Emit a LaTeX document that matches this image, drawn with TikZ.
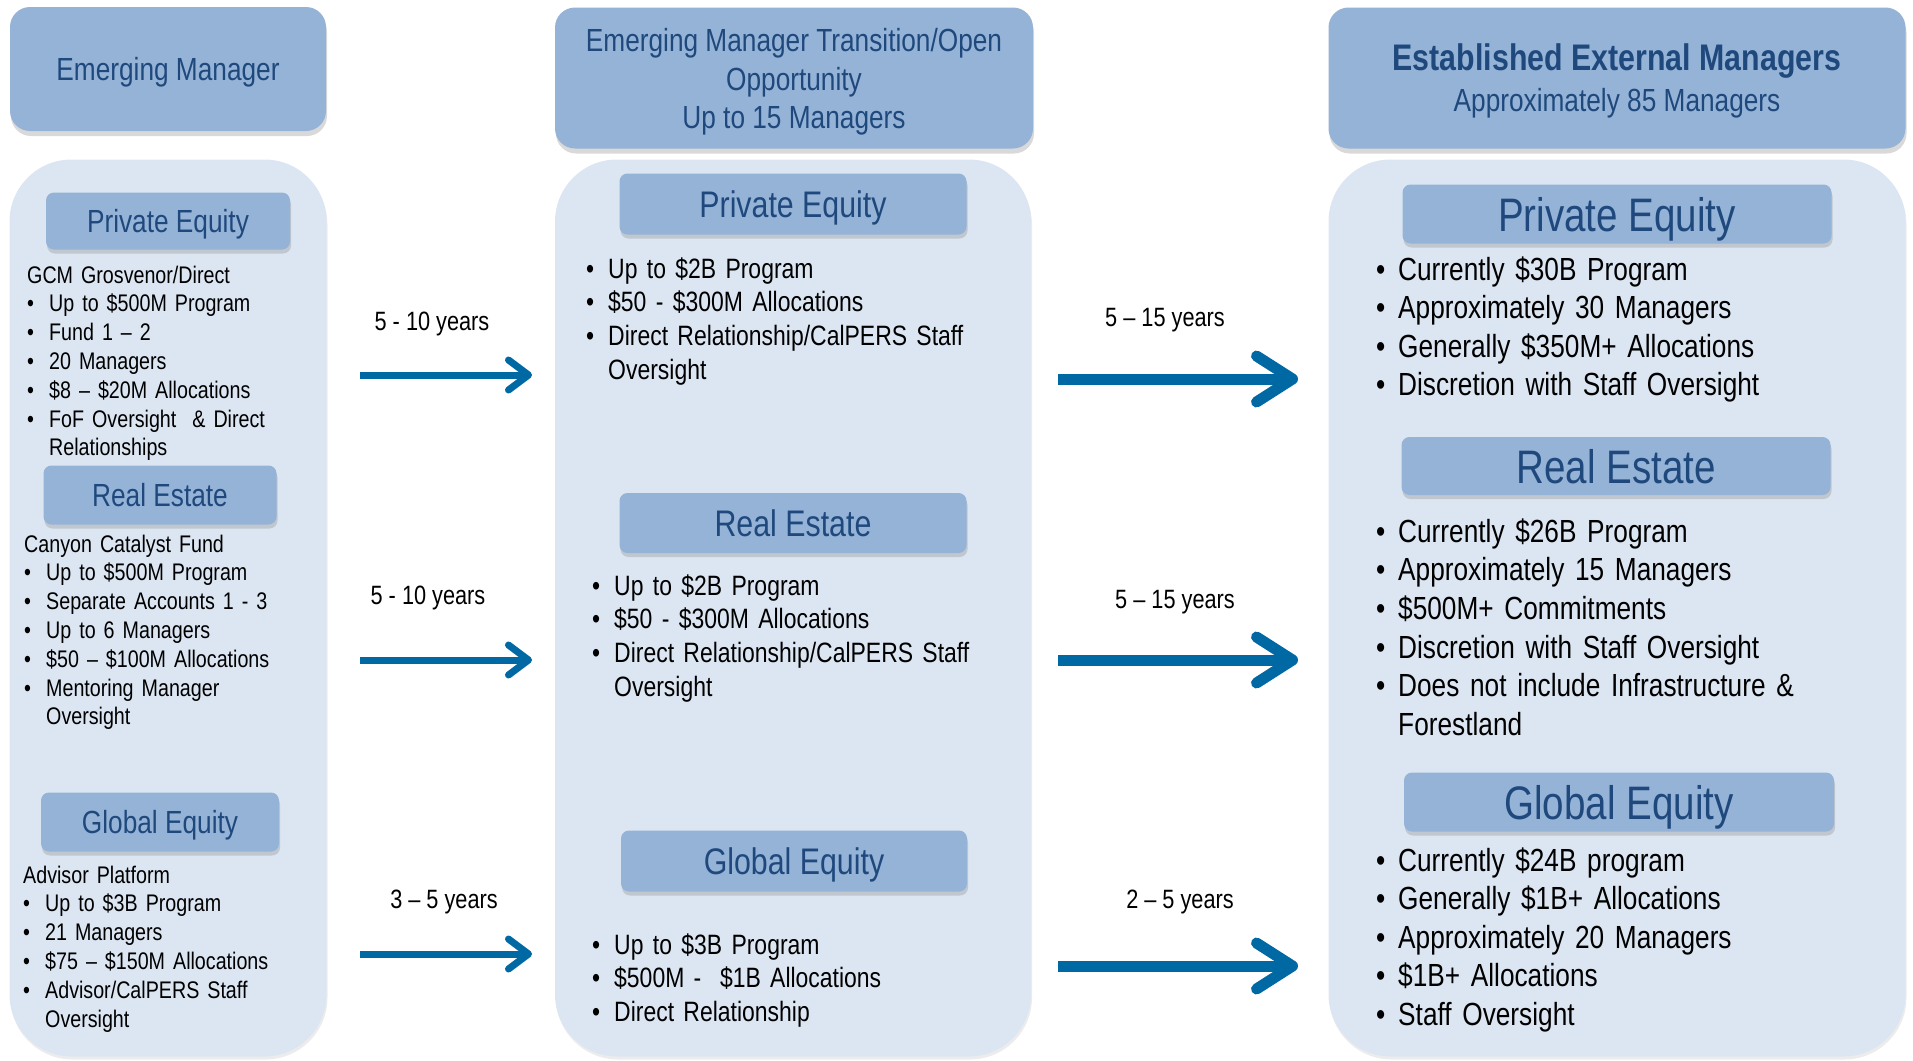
\documentclass[tikz,border=0pt]{standalone}
\usepackage{fontspec}
\setmainfont{Liberation Sans}[FakeStretch=0.82]
\usetikzlibrary{arrows.meta,shadows}

\definecolor{hdrfill}{RGB}{149,179,215}
\definecolor{panelfill}{RGB}{220,230,242}
\definecolor{hdrtext}{RGB}{31,73,125}
\definecolor{arrowblue}{RGB}{0,104,163}

\newlength{\bulind}
\setlength{\bulind}{22pt}
\newcommand{\bitem}[1]{\noindent\makebox[\bulind][l]{\textbullet}#1\par}
\newcommand{\bcont}[1]{\noindent\hspace*{\bulind}#1\par}

\begin{document}
\begin{tikzpicture}[x=1pt,y=-1pt]
  \tikzset{
    hdr/.style={rectangle,rounded corners=20pt,fill=hdrfill,text=hdrtext,
      drop shadow={shadow xshift=1pt,shadow yshift=-5pt,opacity=0.3}},
    panel/.style={rectangle,rounded corners=62pt,fill=panelfill,
      drop shadow={shadow xshift=1pt,shadow yshift=-3pt,opacity=0.15}},
    sub/.style={rectangle,rounded corners=8pt,fill=hdrfill,text=hdrtext,text depth=0pt,
      drop shadow={shadow xshift=1pt,shadow yshift=-4pt,opacity=0.3}},
    lst/.style={anchor=base west,inner sep=0pt,align=left,text width=#1},
    yrs/.style={font=\fontsize{26.5}{30}\selectfont,text depth=0pt},
    arr/.style={draw=arrowblue,line width=7pt,-{Straight Barb[length=20pt,width=30pt,round]}},
    bigarr/.style={draw=arrowblue,line width=11pt,-{Straight Barb[length=36pt,width=46pt,round]}}
  }
  \useasboundingbox (0,0) rectangle (1913,1060);

  % column heads
  \node[hdr,minimum width=316pt,minimum height=124pt,text depth=0pt,font=\fontsize{32}{38.5}\selectfont]
    (h1) at (168,69) {Emerging Manager};
  \node[hdr,minimum width=478pt,minimum height=141pt,font=\fontsize{32}{38.5}\selectfont]
    (h2) at (794,78) {\raisebox{-4pt}[\height][\depth]{\parbox{470pt}{\centering
      Emerging Manager Transition/Open\\Opportunity\\Up to 15 Managers}}};
  \node[hdr,minimum width=577pt,minimum height=141pt,font=\fontsize{32}{41}\selectfont]
    (h3) at (1617,78) {\raisebox{-3pt}[\height][\depth]{\parbox{570pt}{\centering
      {\fontsize{37}{41}\selectfont\bfseries Established External Managers}\\
      Approximately 85 Managers}}};

  % panels
  \node[panel,minimum width=317pt,minimum height=897pt] (p1) at (168,608) {};
  \node[panel,minimum width=476pt,minimum height=897pt] (p2) at (793,608) {};
  \node[panel,minimum width=577pt,minimum height=897pt] (p3) at (1617,608) {};

  % emerging manager
  \node[sub,minimum width=244pt,minimum height=57pt,font=\fontsize{32}{36}\selectfont]
    (lpe) at (168,221) {Private Equity};
  \node[sub,minimum width=233pt,minimum height=59pt,font=\fontsize{32}{36}\selectfont]
    (lre) at (160,495) {Real Estate};
  \node[sub,minimum width=238pt,minimum height=59pt,font=\fontsize{32}{36}\selectfont]
    (lge) at (160,822) {Global Equity};

  \node[lst=290pt,font=\fontsize{24}{28.8}\selectfont] (lpet) at (27,283) {%
    GCM Grosvenor/Direct\par
    \bitem{Up to \$500M Program}
    \bitem{Fund 1 – 2}
    \bitem{20 Managers}
    \bitem{\$8 – \$20M Allocations}
    \bitem{FoF Oversight\ \ \& Direct}
    \bcont{Relationships}};
  \node[lst=290pt,font=\fontsize{24}{28.8}\selectfont] (lret) at (24,552) {%
    Canyon Catalyst Fund\par
    \bitem{Up to \$500M Program}
    \bitem{Separate Accounts 1 - 3}
    \bitem{Up to 6 Managers}
    \bitem{\$50 – \$100M Allocations}
    \bitem{Mentoring Manager}
    \bcont{Oversight}};
  \node[lst=290pt,font=\fontsize{24}{28.8}\selectfont] (lget) at (23,883) {%
    Advisor Platform\par
    \bitem{Up to \$3B Program}
    \bitem{21 Managers}
    \bitem{\$75 – \$150M Allocations}
    \bitem{Advisor/CalPERS Staff}
    \bcont{Oversight}};

  % transition
  \node[sub,minimum width=347pt,minimum height=61pt,font=\fontsize{37}{40}\selectfont]
    (mpe) at (793,204) {Private Equity};
  \node[sub,minimum width=347pt,minimum height=60pt,font=\fontsize{37}{40}\selectfont]
    (mre) at (793,523) {Real Estate};
  \node[sub,minimum width=346pt,minimum height=61pt,font=\fontsize{37}{40}\selectfont]
    (mge) at (794,861) {Global Equity};

  \node[lst=420pt,font=\fontsize{28}{33.7}\selectfont] (mpet) at (586,278) {%
    \bitem{Up to \$2B Program}
    \bitem{\$50 - \$300M Allocations}
    \bitem{Direct Relationship/CalPERS Staff}
    \bcont{Oversight}};
  \node[lst=420pt,font=\fontsize{28}{33.7}\selectfont] (mret) at (592,595) {%
    \bitem{Up to \$2B Program}
    \bitem{\$50 - \$300M Allocations}
    \bitem{Direct Relationship/CalPERS Staff}
    \bcont{Oversight}};
  \node[lst=420pt,font=\fontsize{28}{33.7}\selectfont] (mget) at (592,954) {%
    \bitem{Up to \$3B Program}
    \bitem{\$500M -\ \ \$1B Allocations}
    \bitem{Direct Relationship}};

  % established
  \node[sub,minimum width=429pt,minimum height=59pt,font=\fontsize{47}{50}\selectfont]
    (rpe) at (1617,214) {Private Equity};
  \node[sub,minimum width=429pt,minimum height=58pt,font=\fontsize{47}{50}\selectfont]
    (rre) at (1616,466) {Real Estate};
  \node[sub,minimum width=430pt,minimum height=59pt,font=\fontsize{47}{50}\selectfont]
    (rge) at (1619,802) {Global Equity};

  \node[lst=500pt,font=\fontsize{32}{38.5}\selectfont] (rpet) at (1376,280) {%
    \bitem{Currently \$30B Program}
    \bitem{Approximately 30 Managers}
    \bitem{Generally \$350M+ Allocations}
    \bitem{Discretion with Staff Oversight}};
  \node[lst=500pt,font=\fontsize{32}{38.7}\selectfont] (rret) at (1376,542) {%
    \bitem{Currently \$26B Program}
    \bitem{Approximately 15 Managers}
    \bitem{\$500M+ Commitments}
    \bitem{Discretion with Staff Oversight}
    \bitem{Does not include Infrastructure \&}
    \bcont{Forestland}};
  \node[lst=500pt,font=\fontsize{32}{38.5}\selectfont] (rget) at (1376,871) {%
    \bitem{Currently \$24B program}
    \bitem{Generally \$1B+ Allocations}
    \bitem{Approximately 20 Managers}
    \bitem{\$1B+ Allocations}
    \bitem{Staff Oversight}};

  % arrows and durations
  \coordinate (a1s) at (360,375);  \coordinate (a1e) at (532,375);
  \coordinate (a2s) at (360,660);  \coordinate (a2e) at (532,660);
  \coordinate (a3s) at (360,954);  \coordinate (a3e) at (532,954);
  \coordinate (b1s) at (1058,379); \coordinate (b1e) at (1298,379);
  \coordinate (b2s) at (1058,660); \coordinate (b2e) at (1298,660);
  \coordinate (b3s) at (1058,966); \coordinate (b3e) at (1298,966);

  \draw[arr] (a1s) -- (a1e);
  \draw[arr] (a2s) -- (a2e);
  \draw[arr] (a3s) -- (a3e);
  \draw[bigarr] (b1s) -- (b1e);
  \draw[bigarr] (b2s) -- (b2e);
  \draw[bigarr] (b3s) -- (b3e);

  \node[yrs] (y1) at (432,321) {5 - 10 years};
  \node[yrs] (y2) at (428,595) {5 - 10 years};
  \node[yrs] (y3) at (444,899) {3 – 5 years};
  \node[yrs] (y4) at (1165,317) {5 – 15 years};
  \node[yrs] (y5) at (1175,599) {5 – 15 years};
  \node[yrs] (y6) at (1180,899) {2 – 5 years};
\end{tikzpicture}
\end{document}
